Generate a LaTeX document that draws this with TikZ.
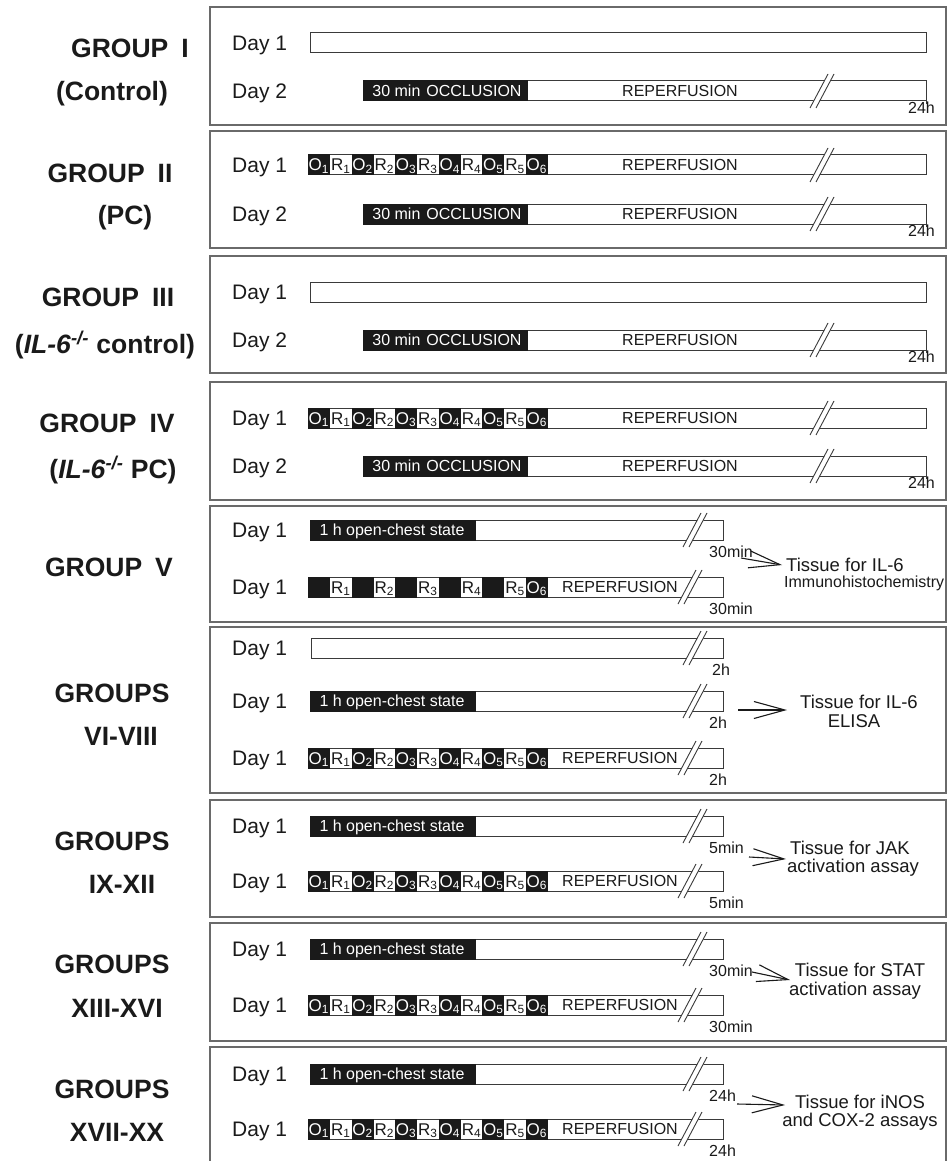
\documentclass[tikz,border=0pt]{standalone}
\usepackage{fontspec}
\setmainfont{Liberation Sans}
\usetikzlibrary{arrows.meta}
\definecolor{boxgray}{HTML}{6A6A6A}
\definecolor{bargray}{HTML}{3A3A3A}
\definecolor{ink}{HTML}{1A1A1A}
\newcommand\grpfont{\fontsize{26.5}{30}\selectfont\bfseries}
\newcommand\dayfont{\fontsize{21}{24}\selectfont}
\newcommand\barfont{\fontsize{16}{18}\selectfont}
\newcommand\cellfont{\fontsize{17}{18}\selectfont}
\newcommand\tlfont{\fontsize{16}{18}\selectfont}
\newcommand\tisfont{\fontsize{18.5}{20}\selectfont}
\tikzset{
  grp/.style={font=\grpfont, text=ink, inner sep=0pt},
  day/.style={font=\dayfont, text=ink, anchor=base west, inner sep=0pt},
  bartxt/.style={font=\barfont, text=ink, anchor=base, inner sep=0pt},
  celltxt/.style={font=\cellfont, text=ink, anchor=base, inner sep=0pt},
  tl/.style={font=\tlfont, text=ink, inner sep=0pt},
  tis/.style={font=\tisfont, text=ink, anchor=base, inner sep=0pt},
  frame/.style={draw=boxgray, line width=1.3pt},
  barline/.style={draw=bargray, line width=1pt},
  brkline/.style={draw=bargray, line width=0.9pt},
  tarrow/.style={draw=ink, line width=1.1pt, -{Straight Barb[length=31pt,width=17pt]}},
}
% white bar
\newcommand\Wbar[3]{\draw[barline,fill=white] (#1,#3-10) rectangle (#2,#3+10);}
% black block
\newcommand\Kbar[3]{\fill[ink] (#1,#3-10.5) rectangle (#2,#3+10.5);}
% axis break at x=#1, row y=#2
\newcommand\Brk[2]{%
  \fill[white] (#1-3-6,#2+10.8) -- (#1-3+6,#2-10.8) -- (#1+3+6,#2-10.8) -- (#1+3-6,#2+10.8) -- cycle;
  \draw[brkline] (#1-3-9,#2+17) -- (#1-3+9,#2-17);
  \draw[brkline] (#1+3-9,#2+17) -- (#1+3+9,#2-17);}
% Day label
\newcommand\DayLbl[2]{\node[day] (day-#1) at (232,#1+7.5) {#2};}
% O/R sequence: #1 = y, #2 = 1 label all O's, 0 only O6
\newcommand\ORseq[2]{%
  \foreach \i in {0,...,10}{%
    \pgfmathsetmacro\xa{308+\i*21.8}%
    \pgfmathsetmacro\xc{308+(\i+0.5)*21.8}%
    \pgfmathtruncatemacro\k{floor(\i/2)+1}%
    \ifodd\i\relax
      \node[celltxt] (cell-#1-\i) at (\xc,#1+6) {R\textsubscript{\k}};
    \else
      \fill[ink] (\xa,#1-10.5) rectangle ({\xa+21.9},#1+10.5);
      \ifnum#2=1\relax
        \node[celltxt,text=white] (cell-#1-\i) at (\xc,#1+6) {O\textsubscript{\k}};
      \else\ifnum\i=10\relax
        \node[celltxt,text=white] (cell-#1-\i) at (\xc,#1+6) {O\textsubscript{\k}};
      \fi\fi
    \fi}}
% long rows (groups I-IV)
\newcommand\PlainLong[1]{\Wbar{310}{926}{#1}}
\newcommand\OccRow[1]{%
  \Wbar{363}{926}{#1}\Kbar{363}{528}{#1}
  \node[bartxt,text=white] (occ-#1) at (447,#1+5.8) {30 min\hspace{6pt}OCCLUSION};
  \node[bartxt] (rep-#1) at (680,#1+5.8) {REPERFUSION};
  \Brk{822}{#1}
  \draw[barline] (926,#1+10) -- (926,#1+13);
  \node[tl,anchor=north east] (t24-#1) at (935,#1+11) {24h};}
\newcommand\ORLong[1]{%
  \Wbar{308}{926}{#1}\ORseq{#1}{1}
  \node[bartxt] (rep-#1) at (680,#1+5.8) {REPERFUSION};
  \Brk{822}{#1}}
% short rows (groups V-IX)
\newcommand\OpenRow[2]{%
  \Wbar{310}{723}{#1}\Kbar{310}{476}{#1}
  \node[bartxt,text=white] (open-#1) at (392,#1+5.8) {1 h open-chest state};
  \Brk{695}{#1}
  \node[tl,anchor=north west] (tl-#1) at (709,#1+16) {#2};}
\newcommand\ORShort[3]{%
  \Wbar{308}{723}{#1}\ORseq{#1}{#3}
  \node[bartxt] (rep-#1) at (620,#1+5.8) {REPERFUSION};
  \Brk{690}{#1}
  \node[tl,anchor=north west] (tl-#1) at (709,#1+16) {#2};}
\begin{document}
\begin{tikzpicture}[x=1pt,y=-1pt]
\useasboundingbox (0,0) rectangle (948,1161);
\fill[white] (0,0) rectangle (948,1161);
% frames
\foreach \t/\b in {7/125,131/248,256/373,382/500,506/622,627/793,800/917,923/1041}
  {\draw[frame] (210,\t) rectangle (946,\b);}
\draw[frame] (210,1175) -- (210,1047) -- (946,1047) -- (946,1175);

% group labels
\node[grp] (g1a) at (130,48) {GROUP\hspace{13pt}I};
\node[grp] (g1b) at (112,94) {(Control)};
\node[grp] (g2a) at (110,173) {GROUP\hspace{13pt}II};
\node[grp] (g2b) at (125,218) {(PC)};
\node[grp] (g3a) at (108,297) {GROUP\hspace{13pt}III};
\node[grp] (g3b) at (105,345) {(\textit{IL-6}\textsuperscript{\textit{-/-}} control)};
\node[grp] (g4a) at (107,423) {GROUP\hspace{13pt}IV};
\node[grp] (g4b) at (113,470) {(\textit{IL-6}\textsuperscript{\textit{-/-}} PC)};
\node[grp] (g5a) at (109,567) {GROUP\hspace{13pt}V};
\node[grp] (g6a) at (112,693) {GROUPS};
\node[grp] (g6b) at (121,736) {VI-VIII};
\node[grp] (g7a) at (112,841) {GROUPS};
\node[grp] (g7b) at (122,884) {IX-XII};
\node[grp] (g8a) at (112,964) {GROUPS};
\node[grp] (g8b) at (117,1008) {XIII-XVI};
\node[grp] (g9a) at (112,1089) {GROUPS};
\node[grp] (g9b) at (117,1132) {XVII-XX};

% Group I
\DayLbl{43}{Day 1}\PlainLong{43}
\DayLbl{91}{Day 2}\OccRow{91}
% Group II
\DayLbl{165}{Day 1}\ORLong{165}
\DayLbl{214}{Day 2}\OccRow{214}
% Group III
\DayLbl{292}{Day 1}\PlainLong{292}
\DayLbl{340}{Day 2}\OccRow{340}
% Group IV
\DayLbl{418}{Day 1}\ORLong{418}
\DayLbl{466}{Day 2}\OccRow{466}

% Group V
\DayLbl{530}{Day 1}\OpenRow{530}{30min}
\DayLbl{587}{Day 1}\ORShort{587}{30min}{0}
\coordinate (a5s) at (741,558);
\coordinate (a5e) at (782,565);
\draw[tarrow] (a5s) -- (a5e);
\node[tis,anchor=base west] (tis5a) at (786,571.5) {Tissue for IL-6};
\node[tis,anchor=base west,font=\fontsize{16}{18}\selectfont] (tis5b) at (784,587) {Immunohistochemistry};

% Groups VI-VIII
\DayLbl{648}{Day 1}
\Wbar{311}{723}{648}\Brk{695}{648}
\node[tl,anchor=north west] (tl-648) at (712,648+16) {2h};
\DayLbl{701}{Day 1}\OpenRow{701}{2h}
\DayLbl{758}{Day 1}\ORShort{758}{2h}{1}
\coordinate (a6s) at (738,710);
\coordinate (a6e) at (787,710);
\draw[tarrow] (a6s) -- (a6e);
\node[tis] (tis6a) at (859,708.6) {Tissue for IL-6};
\node[tis] (tis6b) at (854,727) {ELISA};

% Groups IX-XII
\DayLbl{826}{Day 1}\OpenRow{826}{5min}
\DayLbl{881}{Day 1}\ORShort{881}{5min}{1}
\coordinate (a7s) at (749,857);
\coordinate (a7e) at (786,859);
\draw[tarrow] (a7s) -- (a7e);
\node[tis] (tis7a) at (850,854.6) {Tissue for JAK};
\node[tis] (tis7b) at (853,872.5) {activation assay};

% Groups XIII-XVI
\DayLbl{949}{Day 1}\OpenRow{949}{30min}
\DayLbl{1005}{Day 1}\ORShort{1005}{30min}{1}
\coordinate (a8s) at (752,972);
\coordinate (a8e) at (790,980);
\draw[tarrow] (a8s) -- (a8e);
\node[tis] (tis8a) at (860,976.6) {Tissue for STAT};
\node[tis] (tis8b) at (855,995) {activation assay};

% Groups XVII-XX
\DayLbl{1074}{Day 1}\OpenRow{1074}{24h}
\DayLbl{1129}{Day 1}\ORShort{1129}{24h}{1}
\coordinate (a9s) at (737,1104);
\coordinate (a9e) at (785,1105);
\draw[tarrow] (a9s) -- (a9e);
\node[tis] (tis9a) at (860,1108.6) {Tissue for iNOS};
\node[tis] (tis9b) at (860,1126.5) {and COX-2 assays};
\end{tikzpicture}
\end{document}
